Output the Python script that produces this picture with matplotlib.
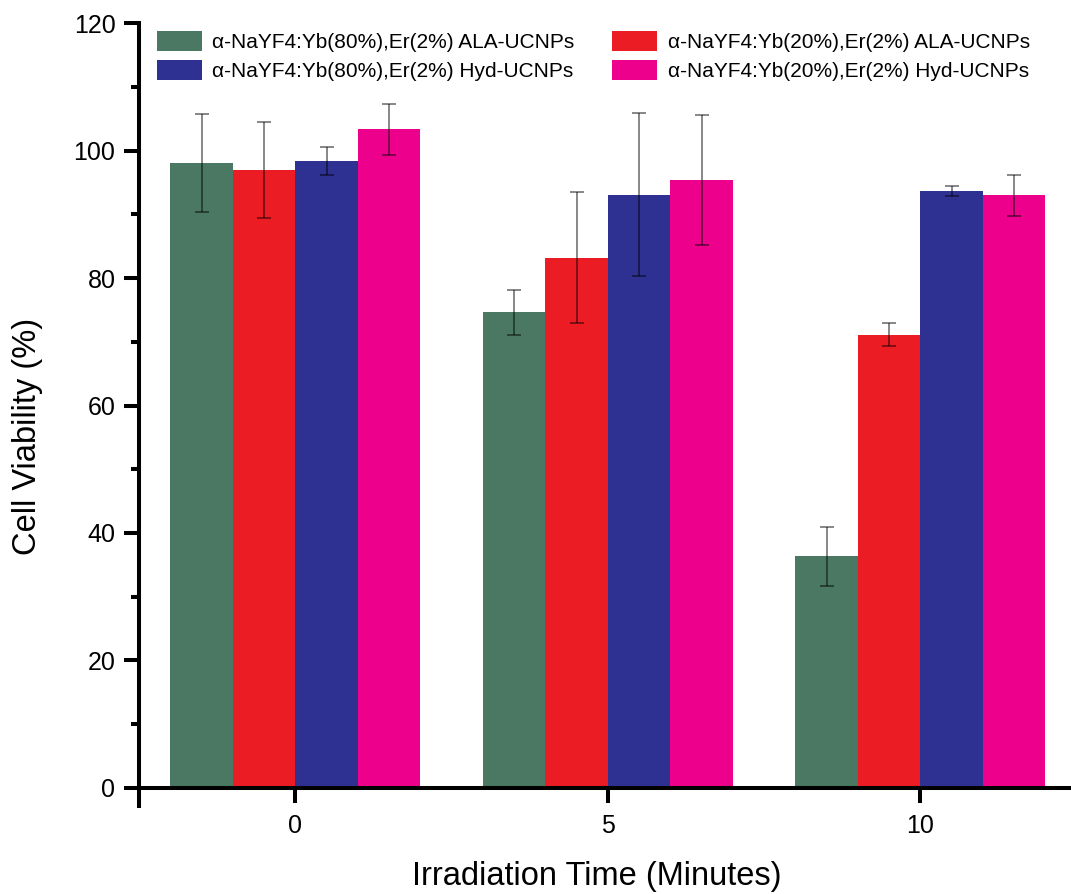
import matplotlib
matplotlib.use('Agg')
import matplotlib.pyplot as plt
import matplotlib.ticker as ticker
import numpy as np

plt.rcParams['font.family'] = ['Liberation Sans', 'DejaVu Sans']

# irradiation time [min]
times = [0, 5, 10]

series_names = ['α-NaYF4:Yb(80%),Er(2%) ALA-UCNPs',
                'α-NaYF4:Yb(20%),Er(2%) ALA-UCNPs',
                'α-NaYF4:Yb(80%),Er(2%) Hyd-UCNPs',
                'α-NaYF4:Yb(20%),Er(2%) Hyd-UCNPs']

# cell viability [%] and errors, one list per series
yb80_ala = [98.0, 74.6, 36.3]
yb80_ala_err = [7.7, 3.6, 4.6]
yb20_ala = [97.0, 83.2, 71.1]
yb20_ala_err = [7.5, 10.3, 1.8]
yb80_hyd = [98.4, 93.1, 93.7]
yb80_hyd_err = [2.2, 12.8, 0.8]
yb20_hyd = [103.4, 95.4, 93.0]
yb20_hyd_err = [4.0, 10.2, 3.2]

colors = ['#4A7862', '#EC1C24', '#2E3192', '#EC008C']


def make_viability_plot():
    fig = plt.figure(figsize=(10.71, 8.94), dpi=100)
    ax = fig.add_axes([139/1071., 1 - 787.7/894., 1 - 139/1071., (787.7 - 23.3)/894.])

    values = [yb80_ala, yb20_ala, yb80_hyd, yb20_hyd]
    errors = [yb80_ala_err, yb20_ala_err, yb80_hyd_err, yb20_hyd_err]
    x = np.array(times, dtype=float)
    width = 1.0
    offsets = [-1.5, -0.5, 0.5, 1.5]

    handles = []
    for vals, errs, off, col, name in zip(values, errors, offsets, colors, series_names):
        b = ax.bar(x + off*width, vals, width, color=col, label=name, zorder=2)
        ax.errorbar(x + off*width, vals, yerr=errs, fmt='none', ecolor='black',
                    alpha=0.55, elinewidth=1.2, capsize=5, capthick=1.2, zorder=3)
        handles.append(b)

    ax.set_xlim(-2.5, 12.41)
    ax.set_ylim(0, 120)
    ax.set_xticks(times)
    ax.yaxis.set_major_locator(ticker.MultipleLocator(20))
    ax.yaxis.set_minor_locator(ticker.MultipleLocator(10))

    for side in ['top', 'right']:
        ax.spines[side].set_visible(False)
    for side in ['left', 'bottom']:
        ax.spines[side].set_linewidth(2.9)
    # left spine runs a bit below the x axis
    ax.plot([0, 0], [0, -0.027], transform=ax.transAxes, clip_on=False,
            color='black', lw=2.9, solid_capstyle='butt')

    ax.tick_params(axis='both', which='major', direction='out', length=11,
                   width=2.9, labelsize=18)
    ax.tick_params(axis='y', which='minor', direction='out', length=6, width=2.9)
    ax.tick_params(axis='y', which='major', pad=6)
    ax.tick_params(axis='x', which='major', pad=8)

    fig.text(28/1071., 1 - 436/894., 'Cell Viability (%)', rotation=90,
             ha='center', va='center', fontsize=23.5)
    fig.text(597/1071., 1 - 877/894., 'Irradiation Time (Minutes)',
             ha='center', va='center', fontsize=23.5)

    # legend: two columns, filled column-wise
    order = [0, 2, 1, 3]
    ax.legend([handles[i] for i in order], [series_names[i] for i in order],
              ncol=2, frameon=False, fontsize=15, loc='upper left',
              bbox_to_anchor=(157/1071., 1 - 31/894.), bbox_transform=fig.transFigure,
              borderpad=0, borderaxespad=0, handlelength=2.16, handleheight=1.1,
              handletextpad=0.5, columnspacing=1.8, labelspacing=0.38)

    fig.savefig('out.png', dpi=100)


if __name__ == '__main__':
    make_viability_plot()
